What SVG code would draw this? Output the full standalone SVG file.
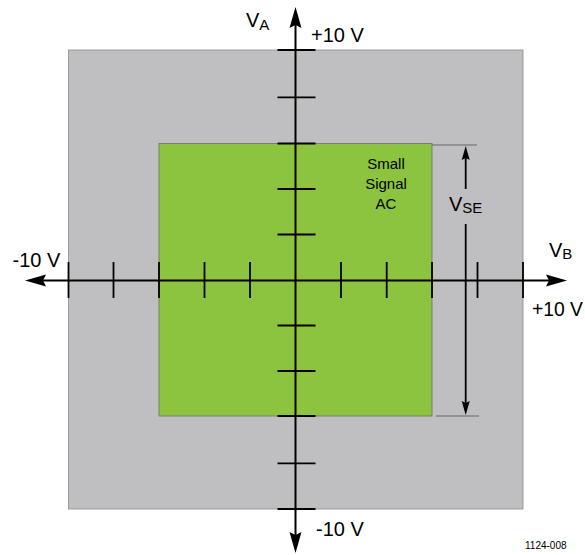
<svg xmlns="http://www.w3.org/2000/svg" width="585" height="555" viewBox="0 0 585 555">
<style>
.lbl{font-family:"Liberation Sans",Arial,sans-serif;font-size:20px;fill:#000}
.sub{font-family:"Liberation Sans",Arial,sans-serif;font-size:15px;fill:#000}
.note{font-family:"Liberation Sans",Arial,sans-serif;font-size:15px;fill:#000;text-anchor:middle}
.tick{stroke:#000;stroke-width:1.8;fill:none}
.axis{stroke:#000;stroke-width:2;fill:none}
.ext{stroke:#666;stroke-width:1.2}
</style>
<rect width="585" height="555" fill="#fff"/>
<g id="outer-region">
<rect x="68.5" y="50" width="454.5" height="459" fill="#bfbfc1" stroke="#8a8a8a" stroke-width="0.8"/>
</g>
<g id="small-signal-region">
<rect x="159" y="143.5" width="273" height="272.5" fill="#8cc43f" stroke="#6e6e6e" stroke-width="0.8"/>
<text class="note" x="386" y="169">Small</text>
<text class="note" x="386" y="189">Signal</text>
<text class="note" x="386" y="209">AC</text>
</g>
<g id="connectors">
<line class="axis" x1="295.5" y1="24" x2="295.5" y2="536"/>
<polygon points="295.5,7 301.5,28 295.5,25 289.5,28" fill="#000"/>
<polygon points="295.5,553 301.5,532 295.5,535 289.5,532" fill="#000"/>
<line class="axis" x1="42" y1="280.5" x2="550" y2="280.5"/>
<polygon points="25,280.5 46,274.5 43,280.5 46,286.5" fill="#000"/>
<polygon points="567,280.5 546,274.5 549,280.5 546,286.5" fill="#000"/>
<g class="tick">
<line x1="68.5" y1="262" x2="68.5" y2="298"/>
<line x1="113.5" y1="262" x2="113.5" y2="298"/>
<line x1="159" y1="262" x2="159" y2="298"/>
<line x1="204.5" y1="262" x2="204.5" y2="298"/>
<line x1="250" y1="262" x2="250" y2="298"/>
<line x1="341" y1="262" x2="341" y2="298"/>
<line x1="386.7" y1="262" x2="386.7" y2="298"/>
<line x1="432" y1="262" x2="432" y2="298"/>
<line x1="477.5" y1="262" x2="477.5" y2="298"/>
<line x1="523" y1="262" x2="523" y2="298"/>
<line x1="277.5" y1="50" x2="315.5" y2="50"/>
<line x1="277.5" y1="97.3" x2="315.5" y2="97.3"/>
<line x1="277.5" y1="143.5" x2="315.5" y2="143.5"/>
<line x1="277.5" y1="189" x2="315.5" y2="189"/>
<line x1="277.5" y1="234.5" x2="315.5" y2="234.5"/>
<line x1="277.5" y1="325.5" x2="315.5" y2="325.5"/>
<line x1="277.5" y1="371" x2="315.5" y2="371"/>
<line x1="277.5" y1="416" x2="315.5" y2="416"/>
<line x1="277.5" y1="463.3" x2="315.5" y2="463.3"/>
<line x1="277.5" y1="509" x2="315.5" y2="509"/>
</g>
<line class="ext" x1="432" y1="145" x2="477" y2="145"/>
<line class="ext" x1="436" y1="416" x2="479" y2="416"/>
<line stroke="#000" stroke-width="1.8" x1="465.7" y1="155" x2="465.7" y2="189"/>
<line stroke="#000" stroke-width="1.8" x1="465.7" y1="224" x2="465.7" y2="406"/>
<polygon points="465.7,146 469.7,160 465.7,158 461.7,160" fill="#000"/>
<polygon points="465.7,415 469.7,401 465.7,403 461.7,401" fill="#000"/>
</g>
<g id="labels">
<text class="lbl" x="246" y="27">V<tspan class="sub" dy="3">A</tspan></text>
<text class="lbl" x="311" y="41.5">+10 V</text>
<text class="lbl" x="12.5" y="267">-10 V</text>
<text class="lbl" x="532" y="316" textLength="51" lengthAdjust="spacingAndGlyphs">+10 V</text>
<text class="lbl" x="316" y="536">-10 V</text>
<text class="lbl" x="549" y="257">V<tspan class="sub" dy="1.5">B</tspan></text>
<text class="lbl" x="449" y="211">V<tspan class="sub" dy="1.5">SE</tspan></text>
<text x="525" y="549" style="font-family:'Liberation Sans',Arial,sans-serif;font-size:10px;fill:#000">1124-008</text>
</g>
</svg>
